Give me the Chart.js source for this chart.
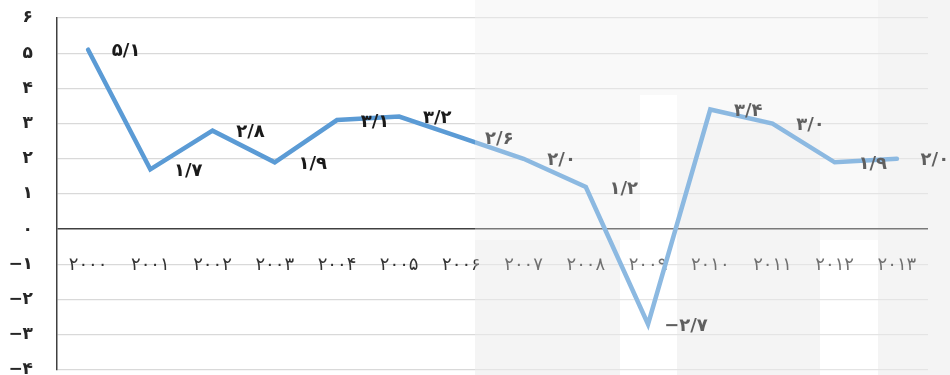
<!DOCTYPE html>
<html>
<head>
<meta charset="utf-8">
<script src="https://cdn.jsdelivr.net/npm/chart.js@4.4.1/dist/chart.umd.min.js"></script>
<style>
    body { margin: 0; background: #fff; }
    #wrap { width: 950px; height: 375px; position: relative; }
</style>
</head>
<body>
<div id="wrap"><canvas id="growthChart"></canvas></div>
<script>
// years and values
const years = [2000, 2001, 2002, 2003, 2004, 2005, 2006, 2007, 2008, 2009, 2010, 2011, 2012, 2013];
const growth = [5.1, 1.7, 2.8, 1.9, 3.1, 3.2, 2.6, 2.0, 1.2, -2.7, 3.4, 3.0, 1.9, 2.0];
const yMin = -4;
const yMax = 6;

// latin digits -> persian digits, '.' -> '/'
function toFa(v) {
    const digits = '۰۱۲۳۴۵۶۷۸۹';
    return String(v).replace(/[0-9]/g, d => digits[d]).replace('.', '/').replace('-', '−');
}
function fmtVal(v) {
    return toFa(v.toFixed(1));
}

const FONT = '"DejaVu Sans", sans-serif';

// light watermark patches behind the right half
const bgPatches = {
    id: 'bgPatches',
    beforeDraw(chart) {
        const c = chart.ctx;
        c.save();
        c.fillStyle = '#f6f6f6';
        c.fillRect(475, 0, 475, 375);
        c.fillStyle = '#ffffff';
        c.fillRect(640, 95, 37, 280);
        c.fillRect(620, 240, 20, 135);
        c.fillRect(820, 240, 58, 135);
        c.fillStyle = '#f0f0f0';
        c.fillRect(475, 240, 145, 135);
        c.fillRect(677, 123, 143, 252);
        c.fillRect(878, 0, 72, 375);
        c.restore();
    }
};

// year labels hang just under the zero line
const yearLabels = {
    id: 'yearLabels',
    beforeDatasetsDraw(chart) {
        const c = chart.ctx;
        const xs = chart.scales.x;
        const y0 = chart.scales.y.getPixelForValue(0);
        c.save();
        c.font = '18px ' + FONT;
        c.fillStyle = '#333333';
        c.textAlign = 'center';
        c.textBaseline = 'middle';
        chart.data.labels.forEach((lab, i) => {
            c.fillText(lab, xs.getPixelForValue(i), y0 + 36);
        });
        c.restore();
    }
};

// value labels next to each point
const valueLabels = {
    id: 'valueLabels',
    afterDatasetsDraw(chart) {
        const c = chart.ctx;
        const meta = chart.getDatasetMeta(0);
        c.save();
        c.font = 'bold 18px ' + FONT;
        c.fillStyle = '#1a1a1a';
        c.textAlign = 'center';
        c.textBaseline = 'middle';
        meta.data.forEach((pt, i) => {
            c.fillText(fmtVal(growth[i]), pt.x + 38, pt.y + 2);
        });
        c.restore();
    }
};

// whitish veil over the right part
const veil = {
    id: 'veil',
    afterDraw(chart) {
        const c = chart.ctx;
        c.save();
        c.fillStyle = 'rgba(255,255,255,0.3)';
        c.fillRect(475, 0, 475, 375);
        c.restore();
    }
};

const ctx = document.getElementById('growthChart').getContext('2d');
new Chart(ctx, {
    type: 'line',
    data: {
        labels: years.map(y => toFa(y)),
        datasets: [{
            data: growth,
            borderColor: '#5b9bd5',
            borderWidth: 4.5,
            borderCapStyle: 'round',
            borderJoinStyle: 'miter',
            pointRadius: 0,
            tension: 0,
            fill: false
        }]
    },
    options: {
        responsive: true,
        maintainAspectRatio: false,
        animation: false,
        layout: { padding: { top: 18, right: 22, bottom: 5, left: 0 } },
        plugins: {
            legend: { display: false },
            tooltip: { enabled: false }
        },
        scales: {
            x: {
                type: 'category',
                offset: true,
                display: false
            },
            y: {
                min: yMin,
                max: yMax,
                afterFit(scale) {
                    scale.width = 57;
                    scale.paddingTop = 0;
                    scale.paddingBottom = 0;
                },
                grid: {
                    color: c => c.tick.value === 0 ? '#404040' : '#d9d9d9',
                    lineWidth: c => c.tick.value === 0 ? 1.6 : 1.2,
                    drawTicks: false
                },
                border: { display: true, color: '#404040', width: 1.5 },
                ticks: {
                    stepSize: 1,
                    padding: 24,
                    color: '#262626',
                    font: { family: FONT, size: 17, weight: 'bold' },
                    callback: v => toFa(v)
                }
            }
        }
    },
    plugins: [bgPatches, yearLabels, valueLabels, veil]
});
</script>
</body>
</html>
